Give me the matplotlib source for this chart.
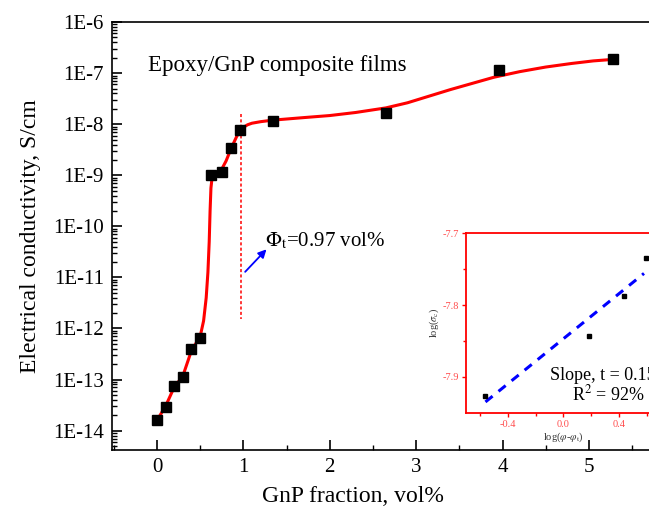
import matplotlib
matplotlib.use('Agg')
import matplotlib.pyplot as plt
import numpy as np
from matplotlib.ticker import FixedLocator, LogLocator, FuncFormatter, NullFormatter, MultipleLocator

plt.rcParams['font.family'] = ['Liberation Serif', 'DejaVu Serif']
plt.rcParams['mathtext.fontset'] = 'stix'

# measured conductivity (S/cm) vs GnP fraction (vol%)
gnp_frac = [0.0, 0.1, 0.2, 0.3, 0.4, 0.5, 0.63, 0.75, 0.86, 0.96, 1.34, 2.65, 3.96, 5.28]
sigma = [1.6e-14, 2.9e-14, 7.4e-14, 1.1e-13, 4.0e-13, 6.6e-13, 1.0e-9, 1.15e-9,
         3.5e-9, 7.6e-9, 1.17e-8, 1.66e-8, 1.15e-7, 1.86e-7]

# fitted curve (log10 of S/cm)
curve_x = [0.0, 0.1, 0.2, 0.3, 0.4, 0.5, 0.54, 0.57, 0.59, 0.605, 0.615, 0.625, 0.64,
           0.7, 0.75, 0.8, 0.86, 0.92, 0.96, 1.0, 1.05, 1.1, 1.2, 1.34, 1.7, 2.0, 2.3,
           2.65, 2.9, 3.15, 3.4, 3.65, 3.9, 4.2, 4.5, 4.8, 5.05, 5.28]
curve_logy = [-13.8, -13.52, -13.15, -12.93, -12.43, -12.16, -11.85, -11.4, -10.9, -10.3,
              -9.7, -9.25, -9.02, -8.95, -8.88, -8.72, -8.47, -8.25, -8.13, -8.06,
              -8.01, -7.98, -7.95, -7.92, -7.87, -7.83, -7.77, -7.68, -7.58, -7.45,
              -7.32, -7.2, -7.08, -6.97, -6.88, -6.81, -6.76, -6.73]

phi_t = 0.97
yticks = [1e-14, 1e-13, 1e-12, 1e-11, 1e-10, 1e-9, 1e-8, 1e-7, 1e-6]

# inset: log(sigma) vs log(phi - phi_t)
ins_x = [-0.566, 0.181, 0.433, 0.595]
ins_y = [-7.927, -7.843, -7.788, -7.734]
fit_x = [-0.56, 0.58]
fit_y = [-7.935, -7.756]

fig = plt.figure(figsize=(6.49, 5.07), dpi=100)
ax = fig.add_axes([0.1726, 0.1134, 0.8413, 0.843])

ax.plot(curve_x, 10 ** np.array(curve_logy), color='red', lw=2.2, zorder=2)
ax.plot(gnp_frac, sigma, 's', color='black', ms=7, zorder=3)
ax.plot([phi_t, phi_t], [1.6e-8, 1.5e-12], color='red', lw=1.1,
        linestyle=(0, (2, 1.5)), zorder=1)
ax.annotate('', xy=(1.29, 10 ** -10.41), xytext=(0.999, 10 ** -10.93),
            arrowprops=dict(arrowstyle='-|>', color='blue', lw=1.3, mutation_scale=12))

ax.text(-0.1, 1.43e-7, 'Epoxy/GnP composite films', fontsize=16.5, va='center', ha='left')
ax.text(1.25, 10 ** -10.40, r'$\Phi_\mathrm{t}$=0.97 vol%', fontsize=15, va='baseline', ha='left')

ax.set_yscale('log')
ax.set_xlim(-0.52, 5.8)
ax.set_ylim(10 ** -14.37, 1e-6)
ax.xaxis.set_major_locator(MultipleLocator(1))
ax.xaxis.set_minor_locator(MultipleLocator(0.5))
ax.yaxis.set_major_locator(FixedLocator(yticks))
ax.yaxis.set_minor_locator(LogLocator(base=10, subs=np.arange(2, 10), numticks=50))
ax.yaxis.set_minor_formatter(NullFormatter())
ax.yaxis.set_major_formatter(FuncFormatter(lambda v, p: '1E%d' % round(np.log10(v))))
ax.tick_params(which='both', direction='in', labelsize=15, top=False, right=False)
ax.tick_params(which='major', length=7, width=1.2)
ax.tick_params(which='minor', length=3.5, width=1.0)
ax.tick_params(axis='y', pad=6)
ax.tick_params(axis='x', pad=6)
for s in ax.spines.values():
    s.set_linewidth(1.2)

ax.set_xlabel('GnP fraction, vol%', fontsize=17)
ax.set_ylabel('Electrical conductivity, S/cm', fontsize=17)
ax.xaxis.set_label_coords(0.441, -0.085)
ax.yaxis.set_label_coords(-0.13, 0.5)

# inset
ins = fig.add_axes([0.718, 0.186, 0.30, 0.354])
ins.set_facecolor('white')
ins.plot(fit_x, fit_y, color='blue', lw=2.2, linestyle=(0, (3, 2.5)))
ins.plot(ins_x, ins_y, 's', color='black', ms=3)
ins.set_xlim(-0.7, 0.7)
ins.set_ylim(-7.95, -7.7)
ins.xaxis.set_major_locator(FixedLocator([-0.4, 0.0, 0.4]))
ins.xaxis.set_minor_locator(FixedLocator([-0.6, -0.2, 0.2, 0.6]))
ins.yaxis.set_major_locator(FixedLocator([-7.9, -7.8, -7.7]))
ins.yaxis.set_minor_locator(FixedLocator([-7.85, -7.75]))
ins.xaxis.set_major_formatter(FuncFormatter(lambda v, p: '%.1f' % v))
ins.yaxis.set_major_formatter(FuncFormatter(lambda v, p: '%.1f' % v))
ins.tick_params(which='both', direction='out', colors='red', labelcolor='#ff4d4d',
                labelsize=7.5, pad=2)
ins.tick_params(which='major', length=3, width=1)
ins.tick_params(which='minor', length=2, width=1)
for s in ins.spines.values():
    s.set_color('red')
    s.set_linewidth(1.3)
ins.set_xlabel(r'log($\varphi$-$\varphi_\mathrm{t}$)', fontsize=7.5, color='#333333', labelpad=1)
ins.set_ylabel(r'log($\sigma_\mathrm{c}$)', fontsize=7.5, color='#333333', labelpad=1)
ins.text(-0.095, -7.898, 'Slope, t = 0.154', fontsize=13, va='center', ha='left')
ins.text(0.06, -7.925, r'R$^2$ = 92%', fontsize=13, va='center', ha='left')

fig.savefig('out.png', dpi=100)
